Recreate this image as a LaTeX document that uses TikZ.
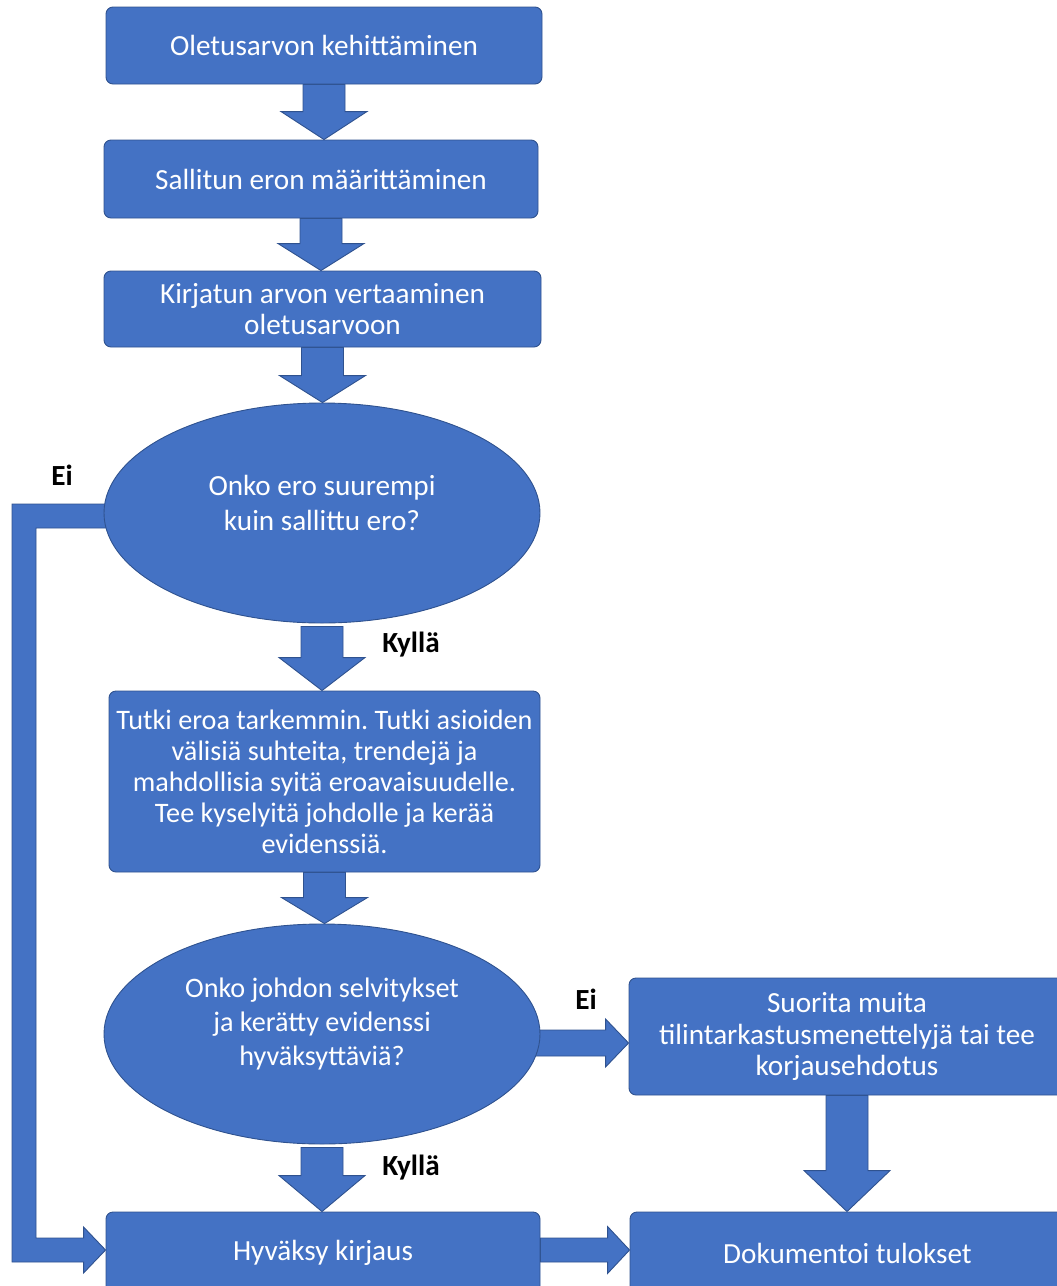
\documentclass[tikz,border=0pt]{standalone}
\usepackage{fontspec}
\setmainfont{Carlito}
\frenchspacing
\usetikzlibrary{shapes.geometric,calc,backgrounds}
\definecolor{fillblue}{HTML}{4472C4}
\definecolor{edgeblue}{HTML}{2F528F}
\newcommand{\mainfs}{\fontsize{29.2}{31.5}\selectfont}
\newcommand{\ovalfs}{\fontsize{29.2}{34.5}\selectfont}
\newcommand{\smallfs}{\fontsize{28.2}{31}\selectfont}
\newcommand{\smallovalfs}{\fontsize{28.2}{34}\selectfont}
\newcommand{\vbarrow}[5]{\path[barrow] let \p1=#1, \p2=#2 in (\x1-#3,\y1) -- (\x1-#3,\y2+#5) -- (\x1-#4,\y2+#5) -- (\x1,\y2) -- (\x1+#4,\y2+#5) -- (\x1+#3,\y2+#5) -- (\x1+#3,\y1) -- cycle;}
\newcommand{\hbarrow}[5]{\path[barrow] let \p1=#1, \p2=#2 in (\x1,\y2+#3) -- (\x2-#5,\y2+#3) -- (\x2-#5,\y2+#4) -- (\x2,\y2) -- (\x2-#5,\y2-#4) -- (\x2-#5,\y2-#3) -- (\x1,\y2-#3) -- cycle;}
\tikzset{
  box/.style={rectangle, rounded corners=7pt, fill=fillblue, draw=edgeblue, line width=0.9pt, text=white, align=center, inner sep=0pt, font=\mainfs},
  oval/.style={ellipse, fill=fillblue, draw=edgeblue, line width=0.9pt, inner sep=0pt},
  ovaltext/.style={text=white, align=center, inner sep=0pt, font=\ovalfs},
  barrow/.style={fill=fillblue, draw=edgeblue, line width=0.9pt, line join=miter},
  lbl/.style={font=\bfseries\mainfs, text=black, inner sep=0pt}
}
\begin{document}
\begin{tikzpicture}[x=1pt,y=-1pt]
\useasboundingbox (0,0) rectangle (1057,1286);
% nodes
\node[box, minimum width=436pt, minimum height=77pt] (b1) at (324,45.5) {Oletusarvon kehittäminen};
\node[box, minimum width=434pt, minimum height=78pt] (b2) at (321,179) {Sallitun eron määrittäminen};
\node[box, minimum width=437pt, minimum height=76pt] (b3) at (322.5,309) {Kirjatun arvon vertaaminen\\oletusarvoon};
\node[oval, minimum width=436pt, minimum height=220pt] (e1) at (322,513) {};
\node[ovaltext] (e1t) at (322,503) {Onko ero suurempi\\kuin sallittu ero?};
\node[box, font=\smallfs, minimum width=431pt, minimum height=181pt] (b4) at (324.5,781.5) {Tutki eroa tarkemmin. Tutki asioiden\\välisiä suhteita, trendejä ja\\mahdollisia syitä eroavaisuudelle.\\Tee kyselyitä johdolle ja kerää\\evidenssiä.};
\node[oval, minimum width=436pt, minimum height=220pt] (e2) at (322,1034) {};
\node[ovaltext, font=\smallovalfs] (e2t) at (322,1024) {Onko johdon selvitykset\\ja kerätty evidenssi\\hyväksyttäviä?};
\node[box, minimum width=434pt, minimum height=82pt] (b5) at (323,1253) {Hyväksy kirjaus};
\node[box, minimum width=436pt, minimum height=117pt] (b6) at (847,1036.5) {Suorita muita\\tilintarkastusmenettelyjä tai tee\\korjausehdotus};
\node[box, minimum width=435pt, minimum height=82pt] (b7) at (847.5,1253) {Dokumentoi tulokset};
% labels
\node[lbl] (ei1) at (62,475) {Ei};
\node[lbl] (ky1) at (411,645) {Kyllä};
\node[lbl] (ei2) at (586,999) {Ei};
\node[lbl] (ky2) at (411,1168) {Kyllä};
% connectors
\begin{scope}[on background layer]
\vbarrow{(b1.south)}{(b2.north)}{21pt}{43pt}{28pt}
\vbarrow{(b2.south)}{(b3.north)}{21pt}{43pt}{27pt}
\vbarrow{(b3.south)}{(e1.north)}{21pt}{43pt}{27pt}
\vbarrow{([yshift=-3pt]e1.south)}{(b4.north)}{21pt}{43pt}{33pt}
\vbarrow{(b4.south)}{(e2.north)}{21pt}{43pt}{26pt}
\vbarrow{([yshift=-3pt]e2.south)}{(b5.north)}{21pt}{43pt}{36pt}
\vbarrow{(b6.south)}{(b7.north)}{21pt}{43pt}{41pt}
\hbarrow{([xshift=-6pt]e2.east)}{([yshift=-6.5pt]b6.west)}{13pt}{24pt}{23pt}
\hbarrow{(b5.east)}{([yshift=3pt]b7.west)}{12pt}{23.5pt}{22pt}
\path[barrow] let \p1=(e1.west), \p2=(b5.west) in
  (\x1+6pt,\y1+9pt) -- (12pt,\y1+9pt) -- (12pt,\y2-9pt) -- (\x2-22pt,\y2-9pt)
  -- (\x2-22pt,\y2-20pt) -- (\x2,\y2+3pt) -- (\x2-22pt,\y2+26pt) -- (\x2-22pt,\y2+15pt)
  -- (36pt,\y2+15pt) -- (36pt,\y1-15pt) -- (\x1+6pt,\y1-15pt) -- cycle;
\end{scope}
\end{tikzpicture}
\end{document}
